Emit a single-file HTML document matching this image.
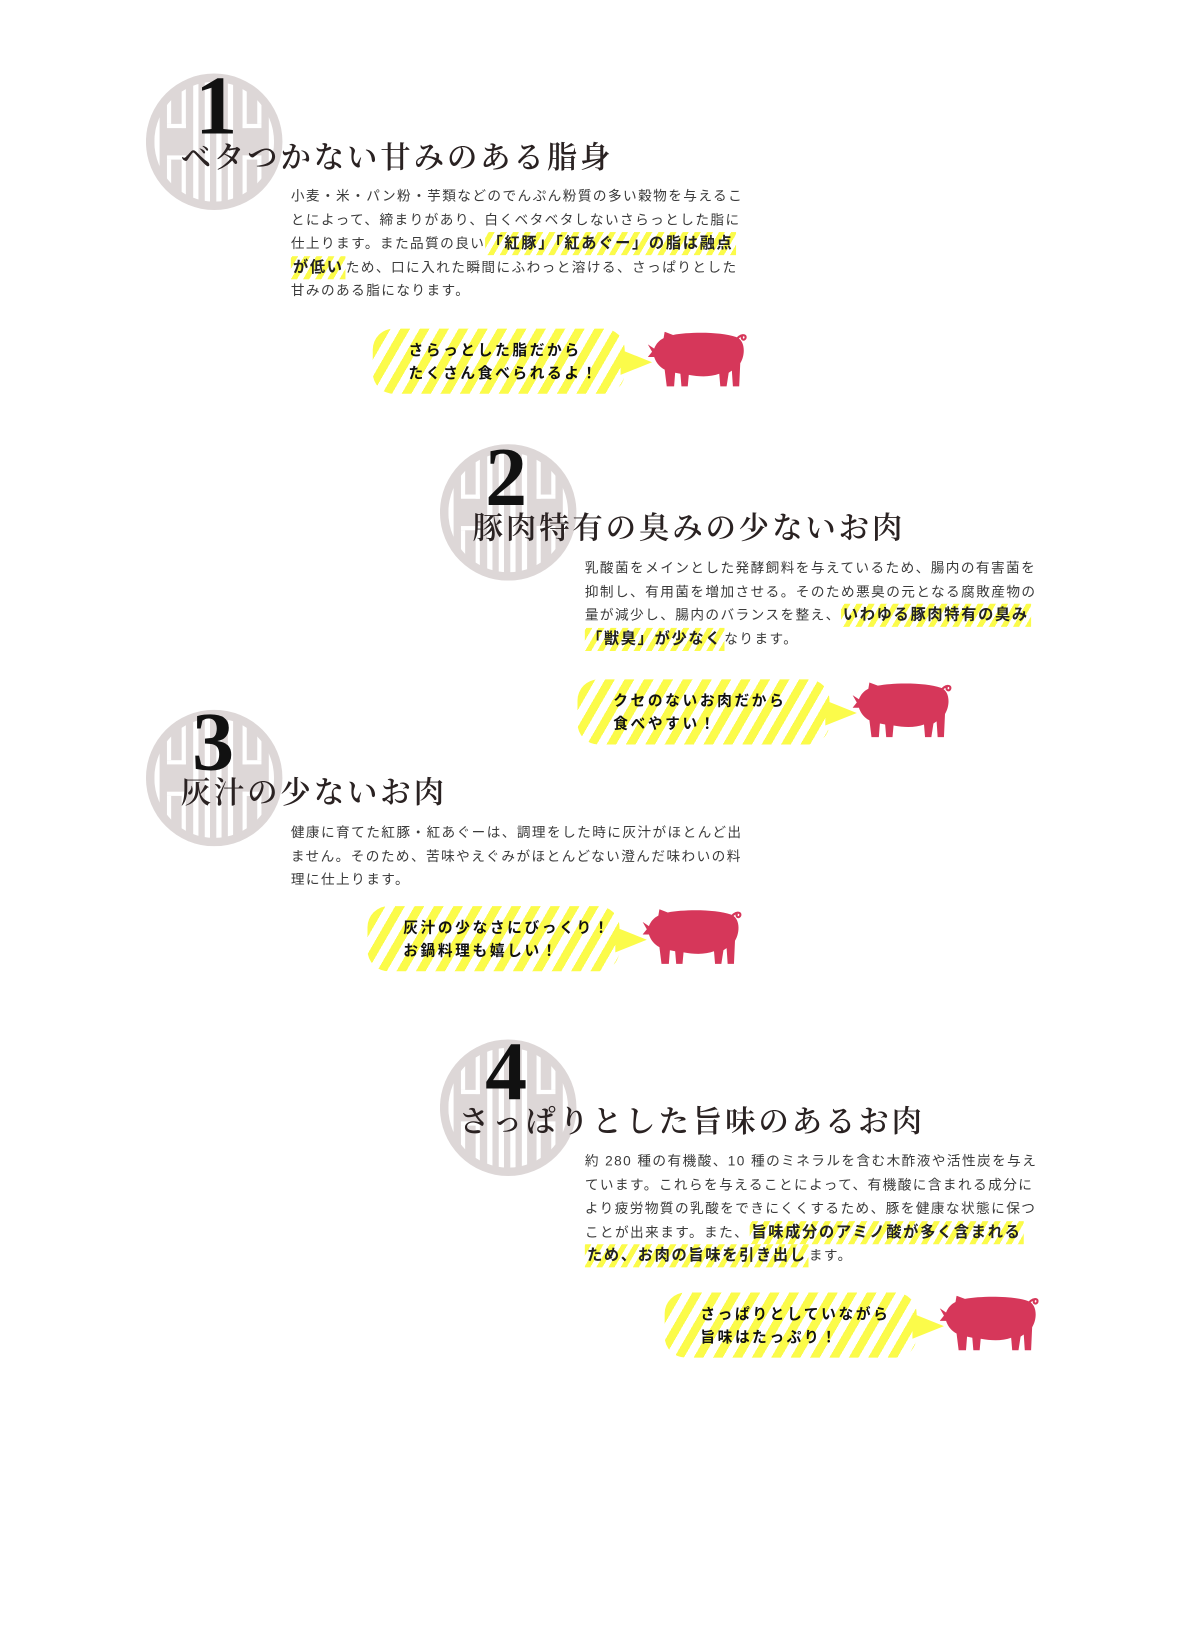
<!DOCTYPE html>
<html><head><meta charset="utf-8">
<style>
body{margin:0;background:#fff;width:1191px;height:1650px;position:relative;overflow:hidden;font-family:"Liberation Sans","Noto Sans CJK JP",sans-serif;}
#w{position:absolute;left:0;top:0;width:1134px;height:1571px;transform:scale(1.05);transform-origin:0 0;}
.abs{position:absolute}
.num{position:absolute;font-family:"Liberation Serif",serif;font-weight:bold;font-size:80px;line-height:80px;color:#111;}
.ttl{position:absolute;font-family:"Liberation Serif","Noto Serif CJK JP",serif;font-weight:600;font-size:29px;letter-spacing:2.7px;color:#2a2222;white-space:nowrap;line-height:34px;}
.txt{position:absolute;font-size:13px;letter-spacing:1.35px;line-height:22.5px;color:#3a3a3a;white-space:nowrap;}
.hl{font-weight:bold;font-size:14.5px;letter-spacing:1.6px;color:#222;background:repeating-linear-gradient(-60deg,#fbfb4a 0 5px,#fff 5px 10px);padding:3px 2px;}
.bub{position:absolute;width:240px;height:62px;border-radius:20px;background:repeating-linear-gradient(-60deg,#fbfb4a 0 8px,#fff 8px 16px);}
.bub .t{position:absolute;left:34px;top:9px;font-size:14px;font-weight:bold;letter-spacing:2.5px;line-height:22px;color:#111;white-space:nowrap;}
.bub .tail{position:absolute;right:-26px;top:20px;width:0;height:0;border-left:30px solid #fbfb4a;border-top:12px solid transparent;border-bottom:12px solid transparent;}
</style></head><body>
<svg width="0" height="0" style="position:absolute"><defs>
<g id="circ">
<circle cx="65" cy="65" r="65" fill="#ddd7d7"/>
<clipPath id="cp"><circle cx="65" cy="65" r="57"/></clipPath>
<g clip-path="url(#cp)" fill="#fff">
<rect x="8" y="0" width="5" height="130"/>
<rect x="20" y="0" width="4" height="48"/><rect x="20" y="82" width="4" height="48"/>
<rect x="20" y="48" width="18" height="4"/><rect x="20" y="78" width="18" height="4"/>
<rect x="34" y="0" width="4" height="52"/><rect x="34" y="78" width="4" height="52"/>
<rect x="45" y="0" width="5" height="130"/><rect x="56" y="0" width="5" height="130"/>
<rect x="67" y="0" width="5" height="130"/><rect x="78" y="0" width="5" height="130"/>
<rect x="92" y="0" width="4" height="52"/><rect x="92" y="78" width="4" height="52"/>
<rect x="92" y="48" width="18" height="4"/><rect x="92" y="78" width="18" height="4"/>
<rect x="106" y="0" width="4" height="48"/><rect x="106" y="82" width="4" height="48"/>
<rect x="117" y="0" width="5" height="130"/>
</g></g>
<g id="pig" fill="#d6375a">
<path d="M6 16 L0 12 L4 19 L0 24 L6 24 C8 30 12 34 16 36 L18 52 L25 52 L26 39 L31 40 L32 52 L38 52 L39 41 C50 43 60 43 68 40 L69 52 L75 52 L77 39 L80 37 L81 52 L87 52 L88 30 C93 22 93 8 84 5 C70 0 40 0 24 3 L16 0 L15 6 C11 8 8 11 6 16 Z"/>
<path d="M84 8 C88 2 94 2 93 6 C92 9 88 7 90 4" stroke="#d6375a" stroke-width="2" fill="none"/>
</g>
</defs></svg>
<div id="w">
<!-- Section 1 -->
<svg class="abs" style="left:139px;top:70px" width="130" height="130"><use href="#circ"/></svg>
<div class="num" style="left:186px;top:61px">1</div>
<div class="ttl" style="left:172px;top:134px">ベタつかない甘みのある脂身</div>
<div class="txt" style="left:277px;top:176px">小麦・米・パン粉・芋類などのでんぷん粉質の多い穀物を与えるこ<br>とによって、締まりがあり、白くベタベタしないさらっとした脂に<br>仕上ります。また品質の良い<span class="hl">「紅豚」「紅あぐー」の脂は融点</span><br><span class="hl">が低い</span>ため、口に入れた瞬間にふわっと溶ける、さっぱりとした<br>甘みのある脂になります。</div>
<div class="bub" style="left:355px;top:313px"><div class="tail"></div><div class="t">さらっとした脂だから<br>たくさん食べられるよ！</div></div>
<svg class="abs" style="left:617px;top:316px" width="95" height="54"><use href="#pig"/></svg>

<!-- Section 2 -->
<svg class="abs" style="left:419px;top:423px" width="130" height="130"><use href="#circ"/></svg>
<div class="num" style="left:462px;top:415px">2</div>
<div class="ttl" style="left:450px;top:487px">豚肉特有の臭みの少ないお肉</div>
<div class="txt" style="left:557px;top:530px">乳酸菌をメインとした発酵飼料を与えているため、腸内の有害菌を<br>抑制し、有用菌を増加させる。そのため悪臭の元となる腐敗産物の<br>量が減少し、腸内のバランスを整え、<span class="hl">いわゆる豚肉特有の臭み</span><br><span class="hl">「獣臭」が少なく</span>なります。</div>
<div class="bub" style="left:550px;top:647px"><div class="tail"></div><div class="t">クセのないお肉だから<br>食べやすい！</div></div>
<svg class="abs" style="left:812px;top:650px" width="95" height="54"><use href="#pig"/></svg>

<!-- Section 3 -->
<svg class="abs" style="left:139px;top:676px" width="130" height="130"><use href="#circ"/></svg>
<div class="num" style="left:183px;top:667px">3</div>
<div class="ttl" style="left:172px;top:739px">灰汁の少ないお肉</div>
<div class="txt" style="left:277px;top:782px">健康に育てた紅豚・紅あぐーは、調理をした時に灰汁がほとんど出<br>ません。そのため、苦味やえぐみがほとんどない澄んだ味わいの料<br>理に仕上ります。</div>
<div class="bub" style="left:350px;top:863px"><div class="tail"></div><div class="t">灰汁の少なさにびっくり！<br>お鍋料理も嬉しい！</div></div>
<svg class="abs" style="left:612px;top:866px" width="95" height="54"><use href="#pig"/></svg>

<!-- Section 4 -->
<svg class="abs" style="left:419px;top:990px" width="130" height="130"><use href="#circ"/></svg>
<div class="num" style="left:462px;top:981px">4</div>
<div class="ttl" style="left:437px;top:1052px">さっぱりとした旨味のあるお肉</div>
<div class="txt" style="left:557px;top:1095px">約 280 種の有機酸、10 種のミネラルを含む木酢液や活性炭を与え<br>ています。これらを与えることによって、有機酸に含まれる成分に<br>より疲労物質の乳酸をできにくくするため、豚を健康な状態に保つ<br>ことが出来ます。また、<span class="hl">旨味成分のアミノ酸が多く含まれる</span><br><span class="hl">ため、お肉の旨味を引き出し</span>ます。</div>
<div class="bub" style="left:633px;top:1231px"><div class="tail"></div><div class="t">さっぱりとしていながら<br>旨味はたっぷり！</div></div>
<svg class="abs" style="left:895px;top:1234px" width="95" height="54"><use href="#pig"/></svg>
</div>
</body></html>
